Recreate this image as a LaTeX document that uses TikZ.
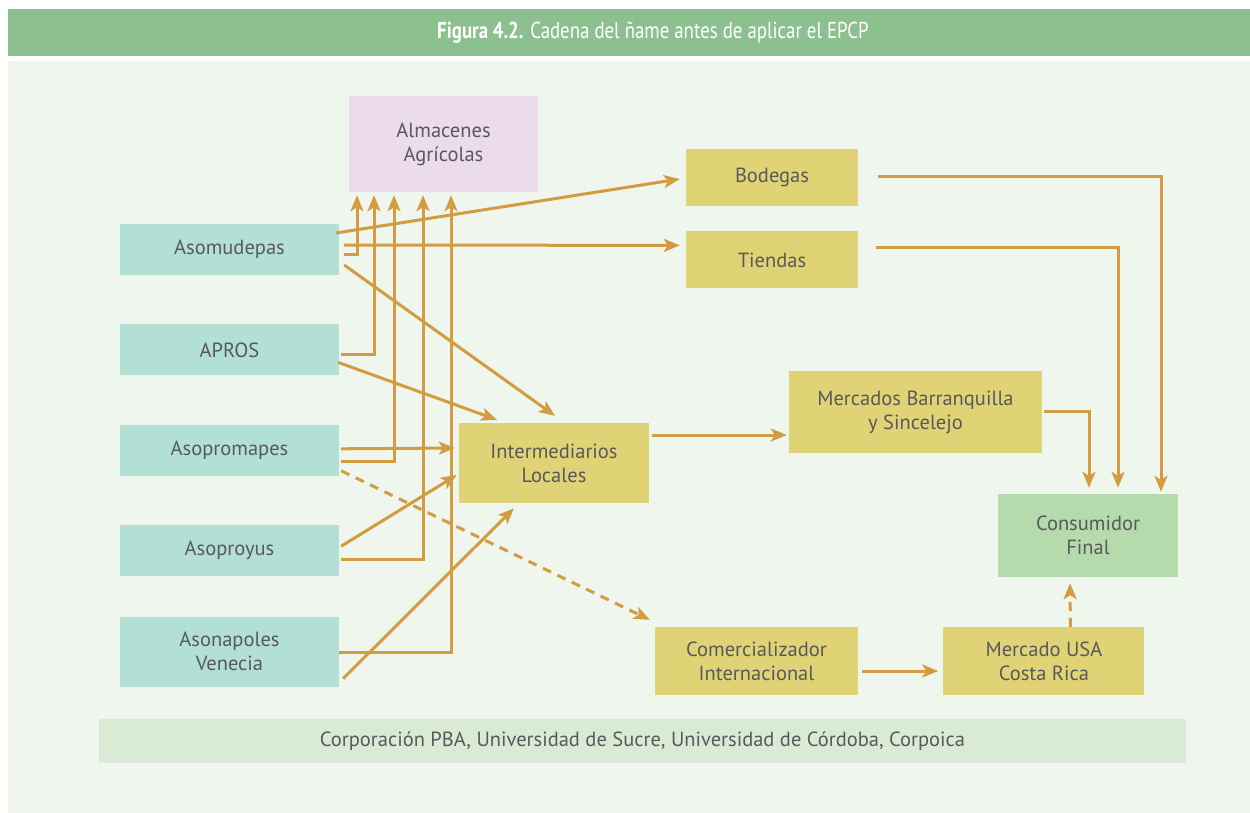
\documentclass[tikz,border=0pt]{standalone}
\usepackage{fontspec}
\setmainfont{PT Sans}
\newfontfamily\titlefont[FakeStretch=0.82]{PT Sans}
\usetikzlibrary{
  arrows.meta,
  positioning
}
\definecolor{ink}{HTML}{58595B}
\definecolor{banner}{HTML}{8DC08F}
\definecolor{panel}{HTML}{EFF6EE}
\definecolor{store}{HTML}{EBDBEB}
\definecolor{producer}{HTML}{B3E0D4}
\definecolor{trader}{HTML}{E0D375}
\definecolor{final}{HTML}{B5DBAC}
\definecolor{source}{HTML}{D9EBD5}
\definecolor{arrow}{HTML}{D39C41}

\begin{document}
\begin{tikzpicture}[
  x=1pt, y=-1pt,
  font=\fontsize{20.5}{24}\selectfont,
  box/.style={
    inner sep=0pt,
    align=center,
    text=ink
  },
  producerbox/.style={
    box,
    fill=producer,
    minimum width=219pt,
    minimum height=51pt
  },
  traderbox/.style={
    box,
    fill=trader
  },
  flow/.style={
    -{Stealth[length=16pt,width=13pt,inset=4pt]},
    line width=3pt,
    draw=arrow
  },
  dashedflow/.style={
    flow,
    dash pattern=on 9pt off 7pt
  }
]
\useasboundingbox (0,0) rectangle (1250,812);

% Frame
\fill[banner] (8,9) rectangle (1252,56);
\fill[panel] (8,61) rectangle (1252,815);
\node[text=white, font=\titlefont\fontsize{23}{26}\selectfont] (title) at (653,33)
  {\textbf{Figura 4.2.} Cadena del ñame antes de aplicar el EPCP};

% Producer associations
\node[producerbox] (asomudepas) at (229.5,249.5) {Asomudepas};
\node[producerbox, below=49pt of asomudepas] (apros) {APROS};
\node[producerbox, below=49pt of apros] (asopromapes) {Asopromapes};
\node[producerbox, below=49pt of asopromapes] (asoproyus) {Asoproyus};
\node[producerbox, minimum height=70pt, below=40pt of asoproyus] (asonapoles) {Asonapoles\\Venecia};

% Buyers
\node[box, fill=store, minimum width=189pt, minimum height=96pt] (almacenes) at (443.5,144) {Almacenes\\Agrícolas};
\node[traderbox, minimum width=172pt, minimum height=57pt] (bodegas) at (772,177.5) {Bodegas};
\node[traderbox, minimum width=172pt, minimum height=57pt, below=25pt of bodegas] (tiendas) {Tiendas};
\node[traderbox, minimum width=190pt, minimum height=80pt] (inter) at (554,463) {Intermediarios\\Locales};
\node[traderbox, minimum width=253pt, minimum height=82pt] (mercados) at (915.5,412) {Mercados Barranquilla\\y Sincelejo};
\node[traderbox, minimum width=203pt, minimum height=68pt] (comer) at (756.5,661) {Comercializador\\Internacional};
\node[traderbox, minimum width=201pt, minimum height=68pt, right=85pt of comer] (usa) {Mercado USA\\Costa Rica};
\node[box, fill=final, minimum width=180pt, minimum height=83pt] (consumidor) at (1088,535.5) {Consumidor\\Final};

% Source
\node[box, fill=source, minimum width=1087pt, minimum height=44pt] (fuente) at (642.5,741)
  {Corporación PBA, Universidad de Sucre, Universidad de Córdoba, Corpoica};

% Flows to the storage houses
\draw[flow] ([shift={(5,4.5)}]asomudepas.east) -| ([shift={(-86.5,3)}]almacenes.south);
\draw[flow] ([shift={(2,4.5)}]apros.east) -| ([shift={(-69.5,3)}]almacenes.south);
\draw[flow] ([shift={(2,11.5)}]asopromapes.east) -| ([shift={(-49.5,3)}]almacenes.south);
\draw[flow] ([shift={(2,8.5)}]asoproyus.east) -| ([shift={(-20.5,3)}]almacenes.south);
\draw[flow] ([shift={(0,1)}]asonapoles.east) -| ([shift={(7.5,3)}]almacenes.south);

% Flows to shops and local intermediaries
\draw[flow] ([shift={(-3,-16.5)}]asomudepas.east) -- ([shift={(-6,1.5)}]bodegas.west);
\draw[flow] ([shift={(5,-4.5)}]asomudepas.east) -- ([shift={(-6,-14.5)}]tiendas.west);
\draw[flow] ([shift={(5,15.5)}]asomudepas.east) -- ([shift={(1,-7)}]inter.north);
\draw[flow] ([shift={(-1,12.5)}]apros.east) -- ([shift={(-57,-3)}]inter.north);
\draw[flow] ([shift={(2,-1.5)}]asopromapes.east) -- ([shift={(-4,-15)}]inter.west);
\draw[flow] ([shift={(2,-4.5)}]asoproyus.east) -- ([shift={(-2,12)}]inter.west);
\draw[flow] ([shift={(4,27)}]asonapoles.east) -- ([shift={(-40,5)}]inter.south);
\draw[dashedflow] ([shift={(2,20.5)}]asopromapes.east) -- ([shift={(-5,-7)}]comer.north west);

% Flows to the final consumer
\draw[flow] ([shift={(3,-28)}]inter.east) -- ([shift={(-2,23)}]mercados.west);
\draw[flow] ([shift={(20,-1.5)}]bodegas.east) -| ([shift={(73,-2)}]consumidor.north);
\draw[flow] ([shift={(18,-12.5)}]tiendas.east) -| ([shift={(30,-6)}]consumidor.north);
\draw[flow] ([shift={(2,-1)}]mercados.east) -| ([shift={(1,-6)}]consumidor.north);
\draw[flow] ([shift={(4,10)}]comer.east) -- ([shift={(-5,10)}]usa.west);
\draw[dashedflow] ([shift={(26.5,0)}]usa.north) -- ([shift={(-18,6)}]consumidor.south);

\end{tikzpicture}
\end{document}
